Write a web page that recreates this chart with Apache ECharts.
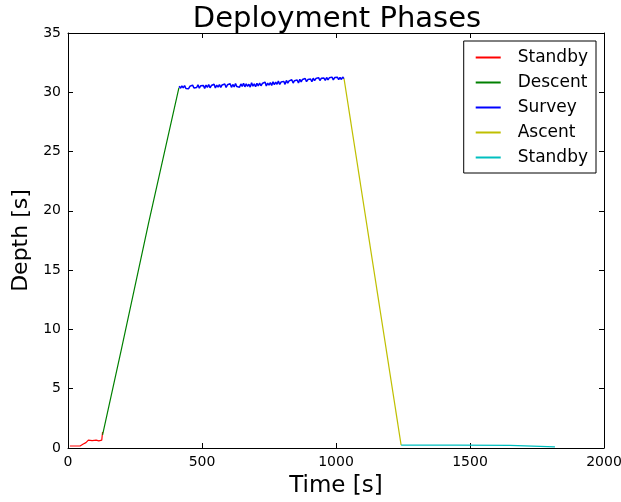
<!DOCTYPE html>
<html><head><meta charset="utf-8">
<script src="https://cdn.jsdelivr.net/npm/echarts@6/dist/echarts.min.js"></script>
<style>html,body{margin:0;padding:0;background:#fff}#c{width:621px;height:502px}</style>
</head><body><div id="c"></div>
<script>
const standby1Time = [7, 45, 51, 57, 67, 76, 90, 105, 115, 126, 129];
const standby1Depth = [0.17, 0.17, 0.3, 0.34, 0.45, 0.67, 0.62, 0.66, 0.6, 0.66, 1.35];
const descentTime = [129, 200, 300, 414];
const descentDepth = [1.1, 8.4, 18.9, 30.4];
const surveyTime = [415,420,425,430,435,440,445,450,455,460,
  465,470,475,480,485,490,495,500,505,510,
  515,520,525,530,535,540,545,550,555,560,
  565,570,575,580,585,590,595,600,605,610,
  615,620,625,630,635,640,645,650,655,660,
  665,670,675,680,685,690,695,700,705,710,
  715,720,725,730,735,740,745,750,755,760,
  765,770,775,780,785,790,795,800,805,810,
  815,820,825,830,835,840,845,850,855,860,
  865,870,875,880,885,890,895,900,905,910,
  915,920,925,930,935,940,945,950,955,960,
  965,970,975,980,985,990,995,1000,1005,1010,
  1015,1020,1025,1030];
const surveyDepth = [30.52,30.34,30.54,30.37,30.57,30.32,30.48,30.30,30.51,30.38,
  30.60,30.36,30.52,30.40,30.63,30.34,30.55,30.41,30.58,30.33,
  30.61,30.42,30.66,30.38,30.57,30.44,30.68,30.36,30.60,30.43,
  30.65,30.41,30.62,30.46,30.70,30.40,30.63,30.47,30.72,30.42,
  30.66,30.45,30.74,30.48,30.64,30.43,30.70,30.50,30.76,30.46,
  30.72,30.49,30.68,30.44,30.80,30.52,30.71,30.47,30.75,30.53,
  30.78,30.55,30.74,30.58,30.86,30.54,30.77,30.60,30.82,30.57,
  30.88,30.64,30.85,30.68,30.94,30.66,30.86,30.70,30.92,30.67,
  31.00,30.77,30.96,30.80,31.06,30.78,30.98,30.82,31.04,30.79,
  31.10,30.88,31.08,30.92,31.16,30.90,31.07,30.93,31.12,30.89,
  31.19,30.98,31.16,31.01,31.24,30.99,31.18,31.02,31.20,31.00,
  31.25,31.04,31.22,31.08,31.28,31.05,31.24,31.09,31.27,31.06,
  31.26,31.08,31.28,31.15];
const ascentTime = [1030, 1243];
const ascentDepth = [31.15, 0.25];
const standby2Time = [1243, 1450, 1650, 1655, 1817];
const standby2Depth = [0.25, 0.24, 0.22, 0.12, 0.1];

const zip = (a, b) => a.map((v, i) => [v, b[i]]);
const font = 'DejaVu Sans';
const chart = echarts.init(document.getElementById('c'), null, {renderer: 'canvas'});
const axisCommon = {
  axisLine: {show: true, onZero: false, lineStyle: {color: '#000', width: 1}},
  axisTick: {show: true, inside: true, length: 5, lineStyle: {color: '#000'}},
  splitLine: {show: false},
};
const mk = (name, color, t, d, w) => ({
  name, type: 'line', data: zip(t, d), symbol: 'none', showSymbol: false, smooth: false,
  sampling: null, lineStyle: {color, width: w || 1.2}, itemStyle: {color}, animation: false,
  xAxisIndex: 0, yAxisIndex: 0
});
chart.setOption({
  animation: false,
  title: {text: 'Deployment Phases', left: 332, textAlign: 'center', top: 0,
    textStyle: {fontFamily: font, fontSize: 29, fontWeight: 'normal', color: '#000'}},
  grid: {left: 68, right: 17, top: 33, bottom: 54, show: false, containLabel: false, outerBoundsMode: 'none'},
  legend: {
    right: 25, top: 41, orient: 'vertical', itemWidth: 25, itemHeight: 14, itemGap: 8,
    padding: [8, 8, 7, 11], borderColor: '#000', borderWidth: 1, backgroundColor: '#fff',
    textStyle: {fontFamily: font, fontSize: 17, color: '#000', padding: [0, 0, 0, 12]},
    itemStyle: {opacity: 0},
    formatter: n => n.replace(' 2', ''),
    data: ['Standby', 'Descent', 'Survey', 'Ascent', 'Standby 2']
  },
  xAxis: [
    Object.assign({type: 'value', min: 0, max: 2000, interval: 500, position: 'bottom',
      name: 'Time [s]', nameLocation: 'middle', nameGap: 27,
      nameTextStyle: {fontFamily: font, fontSize: 23, color: '#000'},
      axisLabel: {fontFamily: font, fontSize: 14, color: '#000', margin: 7, formatter: v => String(v)}}, axisCommon),
    Object.assign({type: 'value', min: 0, max: 2000, interval: 500, position: 'top',
      axisLabel: {show: false}}, axisCommon)
  ],
  yAxis: [
    Object.assign({type: 'value', min: 0, max: 35, interval: 5, position: 'left',
      name: 'Depth [s]', nameLocation: 'middle', nameGap: 30,
      nameTextStyle: {fontFamily: font, fontSize: 22, color: '#000'},
      axisLabel: {fontFamily: font, fontSize: 14, color: '#000', margin: 7, formatter: v => String(v)}}, axisCommon),
    Object.assign({type: 'value', min: 0, max: 35, interval: 5, position: 'right',
      axisLabel: {show: false}}, axisCommon)
  ],
  series: [
    mk('Standby', '#ff0000', standby1Time, standby1Depth),
    mk('Descent', '#008000', descentTime, descentDepth),
    mk('Survey', '#0000ff', surveyTime, surveyDepth, 1.5),
    mk('Ascent', '#bfbf00', ascentTime, ascentDepth),
    mk('Standby 2', '#00bfbf', standby2Time, standby2Depth)
  ]
});
</script></body></html>
